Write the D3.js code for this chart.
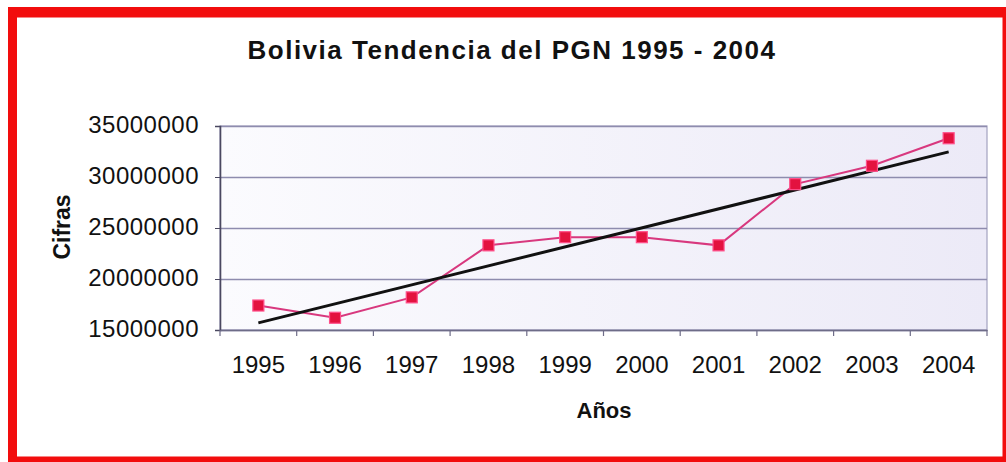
<!DOCTYPE html>
<html>
<head>
<meta charset="utf-8">
<script src="https://cdn.jsdelivr.net/npm/d3@7"></script>
<style>
  html, body { margin: 0; padding: 0; background: #fff; }
  svg { display: block; font-family: "Liberation Sans", Arial, sans-serif; }
</style>
</head>
<body>
<svg id="chart" width="1006" height="462"></svg>
<script>
const years = ["1995","1996","1997","1998","1999","2000","2001","2002","2003","2004"];
const pgn = [17400000, 16200000, 18200000, 23300000, 24100000, 24100000, 23300000, 29300000, 31100000, 33800000];
const yTicks = [15000000, 20000000, 25000000, 30000000, 35000000];
const title = "Bolivia Tendencia del PGN 1995 - 2004";
const yTitle = "Cifras";
const xTitle = "Años";

const svg = d3.select("#chart");
const W = 1006, H = 462;
const plot = { left: 220, right: 987, top: 126, bottom: 330 };

// Red frame
svg.append("rect").attr("x", 0).attr("y", 0).attr("width", W).attr("height", H).attr("fill", "#fff");
const red = "#f20d0d";
svg.append("rect").attr("x", 8).attr("y", 7).attr("width", W - 8).attr("height", 10.5).attr("fill", red);
svg.append("rect").attr("x", 8).attr("y", 7).attr("width", 9).attr("height", H - 7).attr("fill", red);
svg.append("rect").attr("x", 1002.5).attr("y", 7).attr("width", 4).attr("height", H - 7).attr("fill", red);
svg.append("rect").attr("x", 8).attr("y", 456.5).attr("width", W - 8).attr("height", 6).attr("fill", red);

// Plot background
const defs = svg.append("defs");
const grad = defs.append("linearGradient").attr("id", "bg").attr("x1", "0").attr("y1", "0").attr("x2", "1").attr("y2", "0");
grad.append("stop").attr("offset", "0").attr("stop-color", "#fbfbfe");
grad.append("stop").attr("offset", "1").attr("stop-color", "#eceaf7");
svg.append("rect")
  .attr("x", plot.left).attr("y", plot.top)
  .attr("width", plot.right - plot.left).attr("height", plot.bottom - plot.top)
  .attr("fill", "url(#bg)")
  .attr("stroke", "#a4a2c0").attr("stroke-width", 1.2);

const x = d3.scaleBand().domain(years).range([plot.left, plot.right]).padding(0);
const y = d3.scaleLinear().domain([15000000, 35000000]).range([plot.bottom, plot.top]);
const cx = d => x(d) + x.bandwidth() / 2;

// Gridlines
svg.append("g")
  .attr("transform", `translate(${plot.left},0)`)
  .call(d3.axisLeft(y).tickValues(yTicks).tickSize(-(plot.right - plot.left)).tickFormat(""))
  .call(g => g.select(".domain").remove())
  .call(g => g.selectAll("line").attr("stroke", "#8e8cae").attr("stroke-width", 1.4));

// Y axis
const yAxis = svg.append("g")
  .attr("transform", `translate(${plot.left},0)`)
  .call(d3.axisLeft(y).tickValues(yTicks).tickSize(5).tickPadding(16).tickFormat(d3.format("d")));
yAxis.select(".domain").attr("stroke", "#4a4860").attr("stroke-width", 1.6);
yAxis.selectAll("line").attr("stroke", "#4a4860");
yAxis.selectAll("text")
  .attr("font-size", 24).attr("fill", "#111").attr("letter-spacing", 0.5)
  .attr("dy", "0.25em");

// X axis (ticks at category boundaries)
const xAxis = svg.append("g")
  .attr("transform", `translate(0,${plot.bottom})`)
  .call(d3.axisBottom(x).tickSize(0).tickPadding(26));
xAxis.select(".domain").attr("stroke", "#6e6c88").attr("stroke-width", 1.6);
xAxis.selectAll("text").attr("font-size", 24).attr("fill", "#111");
const bounds = years.map(d => x(d)).concat([plot.right]);
xAxis.selectAll(".bound").data(bounds).join("line")
  .attr("class", "bound")
  .attr("x1", d => d).attr("x2", d => d)
  .attr("y1", 0).attr("y2", 6)
  .attr("stroke", "#6e6c88").attr("stroke-width", 1.2);

// Data line
const line = d3.line().x((d, i) => cx(years[i])).y(d => y(d));
svg.append("path").datum(pgn)
  .attr("d", line).attr("fill", "none")
  .attr("stroke", "#d8387e").attr("stroke-width", 2);

// Linear trend line (least squares from the data)
const n = pgn.length;
const xs = d3.range(n);
const mx = d3.mean(xs), my = d3.mean(pgn);
const slope = d3.sum(xs, i => (i - mx) * (pgn[i] - my)) / d3.sum(xs, i => (i - mx) * (i - mx));
const intercept = my - slope * mx;
const trend = [intercept, intercept + slope * (n - 1)];
svg.append("line")
  .attr("x1", cx(years[0])).attr("y1", y(trend[0]))
  .attr("x2", cx(years[n - 1])).attr("y2", y(trend[1]))
  .attr("stroke", "#111").attr("stroke-width", 3);

// Markers
const ms = 11;
svg.append("g").selectAll("rect").data(pgn).join("rect")
  .attr("x", (d, i) => cx(years[i]) - ms / 2)
  .attr("y", d => y(d) - ms / 2)
  .attr("width", ms).attr("height", ms)
  .attr("fill", "#e3123f")
  .attr("stroke", "#ff4f8a").attr("stroke-width", 1.2);

// Titles
svg.append("text")
  .attr("x", 512).attr("y", 59)
  .attr("text-anchor", "middle")
  .attr("font-size", 26).attr("font-weight", "bold")
  .attr("letter-spacing", 1.5)
  .attr("fill", "#111")
  .text(title);

svg.append("text")
  .attr("transform", "translate(70,227) rotate(-90)")
  .attr("text-anchor", "middle")
  .attr("font-size", 23).attr("font-weight", "bold")
  .attr("fill", "#111")
  .text(yTitle);

svg.append("text")
  .attr("x", 604).attr("y", 418)
  .attr("text-anchor", "middle")
  .attr("font-size", 22).attr("font-weight", "bold")
  .attr("fill", "#111")
  .text(xTitle);
</script>
</body>
</html>
